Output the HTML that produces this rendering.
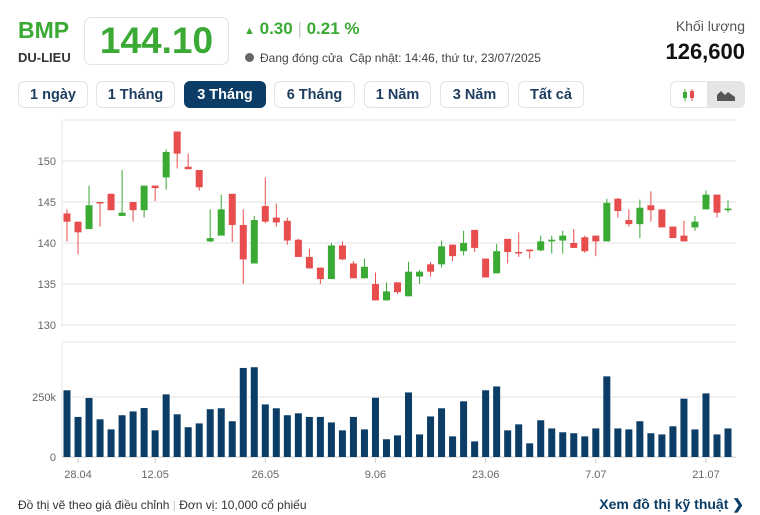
<!DOCTYPE html>
<html><head><meta charset="utf-8">
<style>
body{margin:0;width:760px;height:515px;background:#fff;font-family:"Liberation Sans",sans-serif;position:relative;overflow:hidden}
.a{position:absolute;white-space:nowrap}
.btn{position:absolute;top:81px;height:27px;border:1px solid #e1e4e8;border-radius:6px;box-sizing:border-box;font-weight:bold;font-size:14.5px;color:#1d3c5f;display:flex;align-items:center;justify-content:center;background:#fff}
.btn.on{background:#0b3d66;color:#fff;border-color:#0b3d66}
</style></head><body>
<div class="a" style="left:18px;top:17px;font-size:23px;font-weight:bold;color:#3aaa35">BMP</div>
<div class="a" style="left:18px;top:50px;font-size:13px;font-weight:bold;color:#333">DU-LIEU</div>
<div class="a" style="left:84px;top:17px;width:145px;height:48px;border:1px solid #e1e4e8;border-radius:7px;box-sizing:border-box;text-align:center;font-size:37px;font-weight:bold;color:#3aaa35;line-height:46px">144.10</div>
<div class="a" style="left:244px;top:19px;font-size:17px;font-weight:bold;color:#3aaa35"><span style="font-size:11px">▲</span> 0.30 <span style="color:#ccc;font-weight:normal">|</span> 0.21 %</div>
<div class="a" style="left:245px;top:51px;font-size:12px;color:#444"><span style="display:inline-block;width:9px;height:9px;border-radius:50%;background:#666;margin-right:6px"></span>Đang đóng cửa&nbsp; Cập nhật: 14:46, thứ tư, 23/07/2025</div>
<div class="a" style="right:15px;top:18px;font-size:14px;color:#555">Khối lượng</div>
<div class="a" style="right:15px;top:39px;font-size:22px;font-weight:bold;color:#111">126,600</div>
<div class="btn" style="left:18px;width:70px">1 ngày</div>
<div class="btn" style="left:96px;width:79px">1 Tháng</div>
<div class="btn on" style="left:184px;width:82px">3 Tháng</div>
<div class="btn" style="left:274px;width:81px">6 Tháng</div>
<div class="btn" style="left:364px;width:67px">1 Năm</div>
<div class="btn" style="left:440px;width:69px">3 Năm</div>
<div class="btn" style="left:518px;width:66px">Tất cả</div>
<div class="btn" style="left:670px;width:38px;border-radius:6px 0 0 6px">
<svg width="16" height="14"><line x1="4" y1="1" x2="4" y2="13" stroke="#3aaa35"/><rect x="2" y="4" width="4" height="6" fill="#3aaa35"/><line x1="11" y1="1" x2="11" y2="13" stroke="#e84d4d"/><rect x="9" y="3" width="4" height="7" fill="#e84d4d"/></svg></div>
<div class="btn" style="left:707px;width:38px;border-radius:0 6px 6px 0;background:#e5e5e5">
<svg width="18" height="12"><path d="M0 12 L0 6 L4 2 L8 6 L11 3 L18 8 L18 12 Z" fill="#555"/></svg></div>
<svg class="a" id="chart" style="left:0;top:0" width="760" height="515"></svg>
<div class="a" style="left:18px;top:498px;font-size:12px;color:#333">Đồ thị vẽ theo giá điều chỉnh <span style="color:#ccc">|</span> Đơn vị: 10,000 cổ phiếu</div>
<div class="a" style="right:16px;top:496px;font-size:14px;font-weight:bold;color:#0b3d66">Xem đồ thị kỹ thuật ❯</div>
<script>
const opens=[143.6,142.6,141.7,145.0,146.0,143.3,145,144,147,148.0,153.6,149.3,148.9,140.2,140.9,146.0,142.2,137.5,144.5,143.1,142.7,140.4,138.3,137.0,135.6,139.7,137.5,135.7,135.0,133.0,135.2,133.5,135.9,137.4,137.4,139.8,139.0,141.6,138.1,136.3,140.5,138.9,139.2,139.1,140.2,140.3,140.0,140.7,140.9,140.2,145.4,142.8,142.3,144.6,144.1,142.0,140.9,141.9,144.1,145.9,144.0];
const closes=[142.6,141.3,144.6,144.9,144.0,143.7,144,147,146.7,151.1,150.9,149.0,146.8,140.6,144.1,142.2,138.0,142.8,142.6,142.5,140.3,138.3,136.9,135.6,139.7,138.0,135.7,137.1,133.0,134.1,134.0,136.5,136.5,136.5,139.6,138.4,140.0,139.4,135.8,139.0,138.9,138.8,139.0,140.2,140.4,140.9,139.4,139.0,140.2,144.9,143.9,142.3,144.3,144.0,141.9,140.6,140.2,142.6,145.9,143.7,144.2];
const highs=[144.1,142.6,147.0,145.0,146,148.9,145,147,147,151.4,153.6,150.9,148.9,144.1,145.9,146.0,144.1,143.3,148.0,144.8,143.1,140.5,139.3,137.0,140.0,140.2,137.8,138.1,136.4,135.2,135.2,137.7,136.7,137.7,140.3,139.8,141.5,141.6,138.1,139.9,140.5,141.3,139.2,140.9,140.9,141.5,141.7,140.9,140.9,145.4,145.5,144.1,145.3,146.3,144.1,142.0,142.7,143.3,146.4,145.9,145.2];
const lows=[140.2,138.6,141.7,142.0,144,143.3,142.6,143.1,145.1,146.5,149.1,149.0,146.4,140.1,140.9,140.1,135.0,137.5,142.4,142.0,139.8,138.3,136.9,135.0,135.6,137.9,135.7,135.7,133.0,133.0,133.8,133.5,135.0,135.9,137.0,137.8,138.5,138.9,135.8,136.3,137.5,138.3,138.1,139.0,138.7,138.7,139.4,138.8,138.4,140.2,143.1,142.0,140.6,142.6,141.9,140.6,140.2,141.5,144.1,143.1,143.7];
const volumes=[278,167,246,157,115,174,190,204,111,261,178,124,140,199,203,149,371,374,219,203,174,182,167,167,144,111,167,115,247,74,90,269,94,169,203,86,232,65,278,294,111,136,57,153,119,103,99,86,119,336,119,115,149,99,94,128,243,115,265,94,119];
const priceTicks=[130,135,140,145,150];
const dateLabels=["28.04","12.05","26.05","9.06","23.06","7.07","21.07"];
const dateIdx=[1,8,18,28,38,48,58];
const svg=document.getElementById('chart');
const NS='http://www.w3.org/2000/svg';
function mk(t,a){const e=document.createElementNS(NS,t);for(const k in a)e.setAttribute(k,a[k]);svg.appendChild(e);return e;}
const X0=67,X1=728;
const xs=i=>X0+(X1-X0)*i/(opens.length-1);
const yp=p=>161+(150-p)*8.2;
const yv=v=>457-v*60/250;
// frames
let f=mk('path',{d:'M62 120 L736 120 M62 120 L62 326 M62 342 L736 342 M62 342 L62 458',stroke:'#e6e6e6',fill:'none'});

priceTicks.forEach(p=>{
 const g=mk('line',{x1:62,x2:736,y1:yp(p),y2:yp(p),stroke:'#e3e3e3'});
 
 const t=mk('text',{x:56,y:yp(p)+4,'text-anchor':'end','font-size':11,fill:'#666','font-family':'Liberation Sans'});
 
 t.textContent=p;
});
[[0,'0'],[250,'250k']].forEach(([v,l])=>{
 const g=mk('line',{x1:62,x2:736,y1:yv(v),y2:yv(v),stroke:v?'#e3e3e3':'#ccc'});
 
 const t=mk('text',{x:56,y:yv(v)+4,'text-anchor':'end','font-size':11,fill:'#666','font-family':'Liberation Sans'});
 
 t.textContent=l;
});
opens.forEach((o,i)=>{
 const c=closes[i],up=c>=o,col=up?'#3aaa35':'#e84d4d',x=xs(i);
 const w=mk('line',{x1:x,x2:x,y1:yp(highs[i]),y2:yp(lows[i]),stroke:col,'stroke-width':1});
 
 const top=yp(Math.max(o,c)),h=Math.max(1.5,Math.abs(yp(o)-yp(c)));
 const r=mk('rect',{x:x-3.5,y:top,width:7,height:h,fill:col});
 
 const b=mk('rect',{x:x-3.5,y:yv(volumes[i]),width:7,height:457-yv(volumes[i]),fill:'#0b3d66'});
 
});
dateLabels.forEach((l,k)=>{
 const x=xs(dateIdx[k]);
 const tk=mk('line',{x1:x,x2:x,y1:458,y2:463,stroke:'#ccc'});
 
 const t=mk('text',{x:x,y:478,'text-anchor':'middle','font-size':11,fill:'#666','font-family':'Liberation Sans'});
 
 t.textContent=l;
});
</script>
</body></html>
